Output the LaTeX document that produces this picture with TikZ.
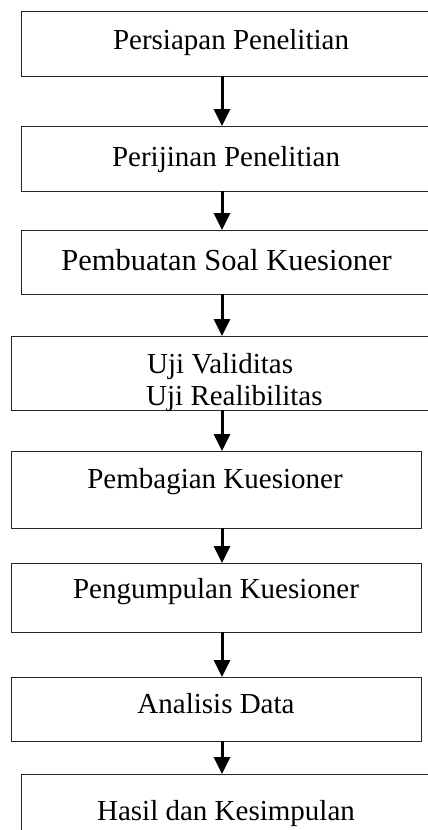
\documentclass[tikz,border=0pt]{standalone}
\usepackage{fontspec}
\setmainfont{Liberation Serif}
\usetikzlibrary{arrows.meta}
\begin{document}
\begin{tikzpicture}[x=1pt,y=-1pt,
  stepbox/.style={draw=black!85,line width=0.9pt,inner sep=0pt,outer sep=0pt},
  lbl/.style={anchor=base,inner sep=0pt,font=\fontsize{29}{33}\selectfont},
  flow/.style={line width=3pt,-{Triangle[width=16pt,length=17pt]},shorten >=0pt}]
\useasboundingbox (0,0) rectangle (428,830);
% boxes
\node[stepbox,minimum width=413pt,minimum height=65pt] (b1) at (227.5,43.5) {};
\node[stepbox,minimum width=413pt,minimum height=65pt] (b2) at (227.5,158.5) {};
\node[stepbox,minimum width=413pt,minimum height=64pt] (b3) at (227.5,262) {};
\node[stepbox,minimum width=423pt,minimum height=74pt] (b4) at (222.5,373) {};
\node[stepbox,minimum width=410pt,minimum height=77pt] (b5) at (216,489.5) {};
\node[stepbox,minimum width=410pt,minimum height=69pt] (b6) at (216,597.5) {};
\node[stepbox,minimum width=410pt,minimum height=64pt] (b7) at (216,709) {};
\node[stepbox,minimum width=413pt,minimum height=66pt] (b8) at (227.5,807) {};
% texts
\node[lbl] (t1) at (231,49) {Persiapan Penelitian};
\node[lbl] (t2) at (226,166) {Perijinan Penelitian};
\node[lbl,font=\fontsize{30.5}{34}\selectfont] (t3) at (226.5,270) {Pembuatan Soal Kuesioner};
\node[lbl,anchor=base west] (t4a) at (147,373) {Uji Validitas};
\node[lbl,anchor=base west] (t4b) at (146,405) {Uji Realibilitas};
\node[lbl] (t5) at (215,488) {Pembagian Kuesioner};
\node[lbl] (t6) at (216,598) {Pengumpulan Kuesioner};
\node[lbl] (t7) at (216,713) {Analisis Data};
\node[lbl] (t8) at (226,820) {Hasil dan Kesimpulan};
% arrows
\coordinate (ax) at (222,0);
\draw[flow] (b1.south -| ax) -- (b2.north -| ax);
\draw[flow] (b2.south -| ax) -- (b3.north -| ax);
\draw[flow] (b3.south -| ax) -- (b4.north -| ax);
\draw[flow] (b4.south -| ax) -- (b5.north -| ax);
\draw[flow] (b5.south -| ax) -- (b6.north -| ax);
\draw[flow] (b6.south -| ax) -- (b7.north -| ax);
\draw[flow] (b7.south -| ax) -- (b8.north -| ax);
\end{tikzpicture}
\end{document}
